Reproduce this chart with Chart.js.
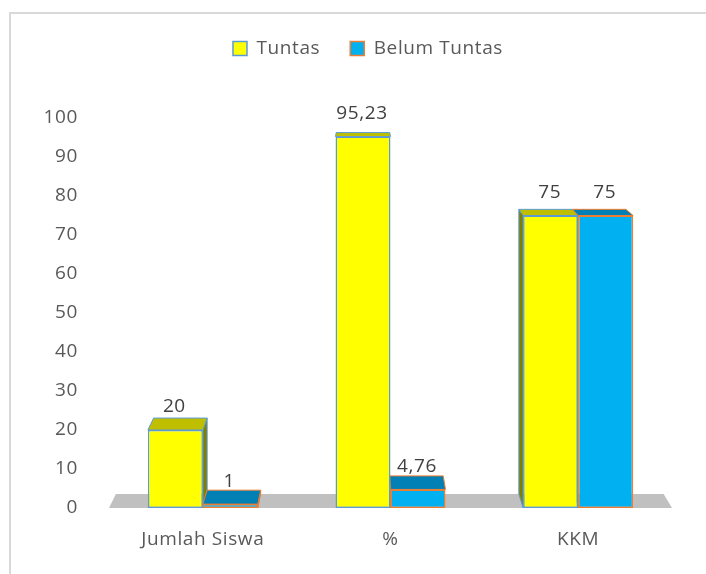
<!DOCTYPE html>
<html>
<head>
<meta charset="utf-8">
<script src="https://cdn.jsdelivr.net/npm/chart.js@4.4.1/dist/chart.umd.min.js"></script>
<style>
  html, body { margin: 0; padding: 0; background: #fff; }
  #wrap { position: relative; width: 706px; height: 574px; overflow: hidden; }
  /* light outer frame of the chart object, open on the right/bottom */
  #frame { position: absolute; left: 9px; top: 12px; width: 760px; height: 620px;
           border: 2px solid #d9d9d9; box-sizing: border-box; }
  canvas { position: absolute; left: 0; top: 0; }
</style>
</head>
<body>
<div id="wrap">
  <div id="frame"></div>
  <canvas id="chart" width="706" height="574"></canvas>
</div>
<script>
// ---- data ----
const categories = ['Jumlah Siswa', '%', 'KKM'];
const seriesNames = ['Tuntas', 'Belum Tuntas'];
const tuntas = [20, 95.23, 75];
const belumTuntas = [1, 4.76, 75];
const yMin = 0;
const yMax = 100;
const yStep = 10;

// ---- colours ----
const YELLOW = '#ffff00';
const YELLOW_TOP = '#bfbf00';
const YELLOW_SIDE = '#808000';
const YELLOW_EDGE = '#5b9bd5';
const BLUE = '#00b0f0';
const BLUE_TOP = '#0080b4';
const BLUE_SIDE = '#006a96';
const BLUE_EDGE = '#ed7d31';
const FLOOR = '#c0c0c0';
const TEXT = '#595959';
const SPACING = '0.6px';
const FONT_SIZE = 19;

Chart.defaults.font.family = "'Open Sans'";
Chart.defaults.font.size = FONT_SIZE;
Chart.defaults.color = TEXT;

// perspective: every back point is pulled toward a vanishing point above the plot
const DEPTH = 0.027;
function vanish(area) {
  return { x: area.left + 0.45 * (area.right - area.left), y: area.top - 130 };
}
function back(p, vp) {
  return { x: p.x + DEPTH * (vp.x - p.x), y: p.y + DEPTH * (vp.y - p.y) };
}
function quad(ctx, pts, fill, stroke) {
  ctx.beginPath();
  ctx.moveTo(pts[0].x, pts[0].y);
  for (let i = 1; i < pts.length; i++) ctx.lineTo(pts[i].x, pts[i].y);
  ctx.closePath();
  ctx.fillStyle = fill;
  ctx.fill();
  if (stroke) {
    ctx.strokeStyle = stroke;
    ctx.lineWidth = 1;
    ctx.stroke();
  }
}

const faceColors = [
  { top: YELLOW_TOP, side: YELLOW_SIDE, edge: YELLOW_EDGE },
  { top: BLUE_TOP, side: BLUE_SIDE, edge: BLUE_EDGE }
];

function collectBoxes(chart) {
  const base = chart.scales.y.getPixelForValue(0);
  const boxes = [];
  chart.data.datasets.forEach((ds, di) => {
    chart.getDatasetMeta(di).data.forEach((bar, i) => {
      const { x, y, width } = bar.getProps(['x', 'y', 'width'], true);
      boxes.push({ l: x - width / 2, r: x + width / 2, t: y, b: base, c: faceColors[di], v: ds.data[i] });
    });
  });
  return boxes;
}

// slightly looser text, set before layout measures and before drawing
const textSpacing = {
  id: 'textSpacing',
  beforeUpdate(chart) { chart.ctx.letterSpacing = SPACING; },
  beforeDraw(chart) { chart.ctx.letterSpacing = SPACING; }
};

// 3D floor, side and top faces drawn behind the bars' front faces
const depthPlugin = {
  id: 'depth',
  beforeDatasetsDraw(chart) {
    const ctx = chart.ctx;
    const area = chart.chartArea;
    const vp = vanish(area);
    const base = chart.scales.y.getPixelForValue(0);
    ctx.save();

    const fl = { x: area.left, y: base };
    const fr = { x: area.right, y: base };
    quad(ctx, [fl, fr, back(fr, vp), back(fl, vp)], FLOOR, null);

    const boxes = collectBoxes(chart);
    // side faces (only the one facing the vanishing point is visible)
    boxes.forEach(b => {
      let edge = null;
      if (b.l > vp.x) edge = b.l;
      else if (b.r < vp.x) edge = b.r;
      if (edge === null) return;
      const p1 = { x: edge, y: b.t };
      const p2 = { x: edge, y: b.b };
      quad(ctx, [p1, back(p1, vp), back(p2, vp), p2], b.c.side, b.c.edge);
    });
    // top faces
    boxes.forEach(b => {
      const p1 = { x: b.l, y: b.t };
      const p2 = { x: b.r, y: b.t };
      quad(ctx, [p1, p2, back(p2, vp), back(p1, vp)], b.c.top, b.c.edge);
    });
    ctx.restore();
  },
  afterDatasetsDraw(chart) {
    // value labels above each box
    const ctx = chart.ctx;
    ctx.save();
    ctx.font = FONT_SIZE + "px 'Open Sans'";
    ctx.letterSpacing = SPACING;
    ctx.fillStyle = '#404040';
    ctx.textAlign = 'center';
    ctx.textBaseline = 'middle';
    collectBoxes(chart).forEach(b => {
      ctx.fillText(String(b.v).replace('.', ','), (b.l + b.r) / 2 - 1, b.t - 23);
    });
    ctx.restore();
  }
};

// extra room between legend and plot
const legendGap = {
  id: 'legendGap',
  beforeInit(chart) {
    const fit = chart.legend.fit;
    chart.legend.fit = function () {
      fit.call(this);
      this.height += 50;
    };
  }
};

new Chart(document.getElementById('chart'), {
  type: 'bar',
  data: {
    labels: categories,
    datasets: [
      {
        label: seriesNames[0],
        data: tuntas,
        backgroundColor: YELLOW,
        borderColor: YELLOW_EDGE,
        borderWidth: 1.5,
        borderSkipped: false,
        yAxisID: 'y'
      },
      {
        label: seriesNames[1],
        data: belumTuntas,
        backgroundColor: BLUE,
        borderColor: BLUE_EDGE,
        borderWidth: 1.5,
        borderSkipped: false,
        yAxisID: 'y'
      }
    ]
  },
  options: {
    responsive: false,
    animation: false,
    categoryPercentage: 0.586,
    barPercentage: 1.0,
    layout: { padding: { left: 30, right: 0, top: 9, bottom: 0 } },
    plugins: {
      legend: {
        position: 'top',
        labels: {
          boxWidth: 14,
          boxHeight: 14,
          padding: 30,
          color: TEXT,
          font: { size: FONT_SIZE }
        }
      },
      tooltip: { enabled: false }
    },
    scales: {
      y: {
        position: 'left',
        min: yMin,
        max: yMax,
        grid: { display: false, drawTicks: false },
        border: { display: false },
        ticks: { stepSize: yStep, padding: 31, color: TEXT, font: { size: FONT_SIZE } },
        afterFit(s) { s.width = 79; }
      },
      yr: {
        position: 'right',
        min: yMin,
        max: yMax,
        grid: { display: false, drawTicks: false },
        border: { display: false },
        ticks: { display: false },
        afterFit(s) { s.width = 34; }
      },
      x: {
        grid: { display: false, drawTicks: false },
        border: { display: false },
        ticks: { padding: 20, color: TEXT, font: { size: FONT_SIZE } },
        afterFit(s) { s.height = 66; }
      }
    }
  },
  plugins: [textSpacing, depthPlugin, legendGap]
});
</script>
</body>
</html>
